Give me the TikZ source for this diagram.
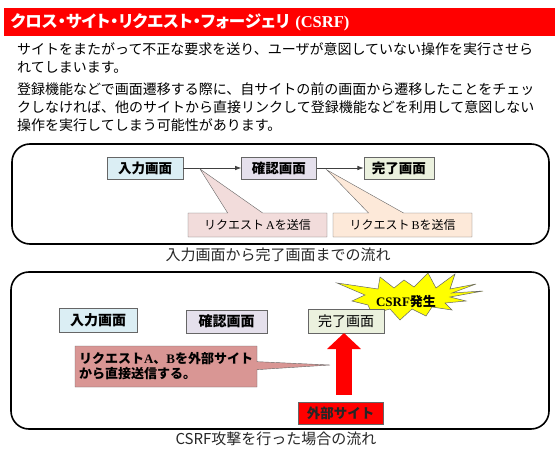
\documentclass[tikz,border=0pt]{standalone}
\usepackage{fontspec}
\setmainfont{Noto Sans CJK JP}
\newfontfamily\latinserif{Liberation Serif}
\newfontfamily\titlefont[RawFeature=+palt]{Noto Sans CJK JP}
\usetikzlibrary{arrows.meta,positioning,shapes.callouts}
\definecolor{titlered}{HTML}{FF0000}
\definecolor{inputblue}{HTML}{DBEEF4}
\definecolor{confirmlilac}{HTML}{E5E0EC}
\definecolor{donegreen}{HTML}{EBF1DE}
\definecolor{requestpink}{HTML}{F2DCDB}
\definecolor{requestpeach}{HTML}{FDE9D9}
\definecolor{attackrose}{HTML}{D99694}
\definecolor{edgegray}{HTML}{666666}
\definecolor{burstyellow}{HTML}{FFFF00}

\begin{document}
\begin{tikzpicture}[
  x=1pt,y=-1pt,
  >=Latex,
  titlebar/.style={fill=titlered,text=white,minimum width=544pt,minimum height=28pt,
    text width=537pt,inner xsep=7pt,align=left,font=\titlefont\fontsize{16.5pt}{19pt}\selectfont\bfseries},
  bodytext/.style={anchor=north west,inner sep=0pt,align=left,
    font=\fontsize{14pt}{18pt}\selectfont},
  frame/.style={draw,line width=1.6pt,rounded corners=18pt},
  screen/.style={draw=edgegray,minimum height=22pt,inner sep=1pt,
    font=\fontsize{13.5pt}{15pt}\selectfont\bfseries},
  bigscreen/.style={screen,minimum height=24pt,font=\fontsize{14pt}{16pt}\selectfont\bfseries},
  request/.style={rectangle callout,draw=edgegray,minimum width=139pt,minimum height=24pt,
    inner sep=1pt,callout pointer width=35pt,font=\fontsize{12pt}{14pt}\selectfont},
  burstedge/.style={fill=burstyellow,draw=edgegray,line width=0.5pt},
  flow/.style={->,line width=0.7pt,color=black!75},
  caption/.style={text=black!85,font=\fontsize{15pt}{17pt}\selectfont}
]
\useasboundingbox (0,0) rectangle (560,460);

\node[titlebar] (title) at (279,22) {クロス・サイト・リクエスト・フォージェリ{\latinserif\ (CSRF)}};
\node[bodytext] (intro) at (17,42) {サイトをまたがって不正な要求を送り、ユーザが意図していない操作を実行させら\\
  れてしまいます。};
\node[bodytext] (detail) at (17,82) {登録機能などで画面遷移する際に、自サイトの前の画面から遷移したことをチェッ\\
  クしなければ、他のサイトから直接リンクして登録機能などを利用して意図しない\\
  操作を実行してしまう可能性があります。};

% normal flow
\node[frame,minimum width=537pt,minimum height=100pt] (frameA) at (280.5,194) {};
\node[screen,fill=inputblue,minimum width=76pt] (inA) at (145,168) {入力画面};
\node[screen,fill=confirmlilac,minimum width=75pt,right=58pt of inA] (confA) {確認画面};
\node[screen,fill=donegreen,minimum width=70pt,right=47pt of confA] (doneA) {完了画面};
\draw[flow] (inA)--(confA);
\draw[flow] (confA)--(doneA);
\node[request,fill=requestpink,callout absolute pointer={(200,169)}] (reqA) at (257.5,225)
  {リクエスト\,{\latinserif A}を送信};
\node[request,fill=requestpeach,callout absolute pointer={(327,170)}] (reqB) at (402.5,225)
  {リクエスト\,{\latinserif B}を送信};
\node[caption] (capA) at (278,255) {入力画面から完了画面までの流れ};

% attack flow
\node[frame,minimum width=538pt,minimum height=157pt] (frameB) at (280,350.5) {};
\node[bigscreen,fill=inputblue,minimum width=78pt] (inB) at (98,320) {入力画面};
\node[bigscreen,fill=confirmlilac,minimum width=81pt,minimum height=23pt] (confB) at (226.5,321.5) {確認画面};
\draw[burstedge] (483,291) -- (452,293) -- (476,284) -- (450,289) -- (455,274) -- (436,288)
  -- (428,273) -- (414,287) -- (404,280) -- (394,288) -- (380,277) -- (378,289) -- (337,283)
  -- (365,295) -- (352,301) -- (368,305) -- (372,314) -- (390,309) -- (400,320) -- (412,309)
  -- (426,316) -- (432,307) -- (452,310) -- (445,303) -- (466,301) -- (450,297) -- cycle;
\node[font=\fontsize{13pt}{15pt}\selectfont\bfseries] (burst) at (406,302) {{\latinserif CSRF}発生};
\node[bigscreen,fill=donegreen,minimum width=76pt,font=\fontsize{14pt}{16pt}\selectfont]
  (doneB) at (346,321) {完了画面};
\node[screen,fill=titlered,minimum width=85pt,text=black!85,font=\fontsize{13.5pt}{15pt}\selectfont\bfseries]
  (extsite) at (340.5,413) {外部サイト};
\coordinate (hit) at (344,333);
\draw[-{Triangle[width=33pt,length=16pt]},line width=16pt,color=titlered,shorten <=7pt]
  (extsite.north -| hit)--(hit);
\node[request,fill=attackrose,minimum width=182pt,minimum height=41pt,callout pointer width=8pt,
  align=left,text width=174pt,font=\fontsize{13pt}{15pt}\selectfont\bfseries,
  callout absolute pointer={(330,365)}] (attack) at (166,366.5)
  {リクエスト{\latinserif A}、{\latinserif B}を外部サイト\\から直接送信する。};
\node[caption] (capB) at (276,439) {CSRF攻撃を行った場合の流れ};
\end{tikzpicture}
\end{document}
